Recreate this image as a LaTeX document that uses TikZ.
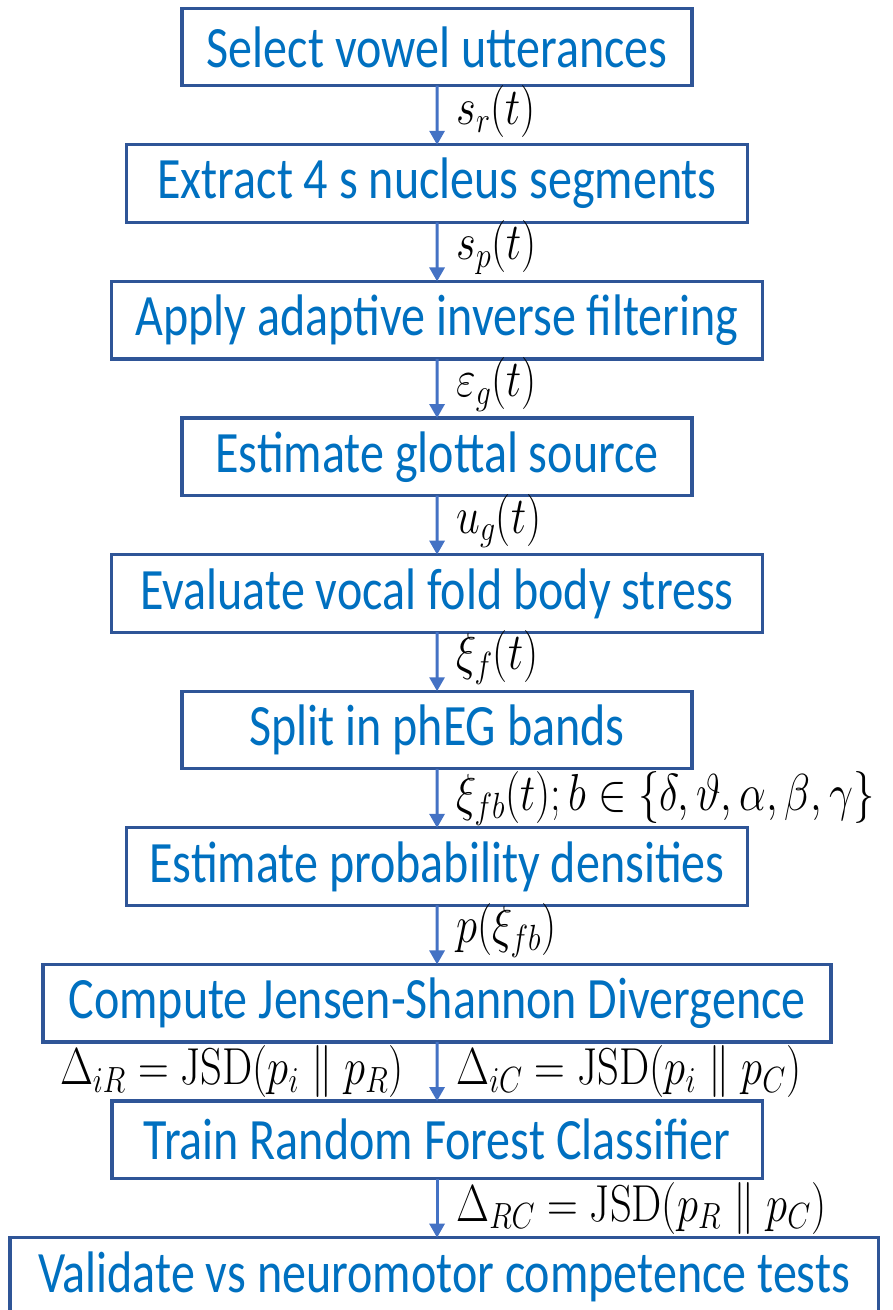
\documentclass[tikz,border=0pt]{standalone}
\usepackage{fix-cm}
\usepackage[no-math]{fontspec}
\setmainfont{Carlito}
\usepackage{tikz}
\usetikzlibrary{arrows.meta,positioning}
\definecolor{boxblue}{HTML}{2F5597}
\definecolor{textblue}{HTML}{0070C0}
\definecolor{arrowblue}{HTML}{4472C4}
\newcommand{\stagefont}{\fontsize{29.3}{34}\selectfont}
\newcommand{\siglabelfont}{\fontsize{26}{30}\selectfont}
\tikzset{
    stage/.style={rectangle, draw=boxblue, line width=1.6pt, minimum height=38.75pt, inner sep=0pt, outer sep=0pt, align=center, font=\stagefont, text=textblue},
    flow/.style={-{Triangle[length=7pt, width=7.5pt]}, line width=1.5pt, draw=arrowblue},
    sig/.style={font=\siglabelfont, inner sep=0pt, text=black},
}

\begin{document}
\begin{tikzpicture}[xscale=0.82, transform shape, node distance=29.55pt]
    \useasboundingbox (-266.5pt,23.5pt) rectangle (277.5pt,-631.5pt);
    \node[stage, minimum width=311pt] (select) {Select vowel utterances};
    \node[stage, below=of select, minimum width=378.7pt] (extract) {Extract 4 s nucleus segments};
    \node[stage, below=of extract, minimum width=397pt] (inverse) {Apply adaptive inverse filtering};
    \node[stage, below=of inverse, minimum width=311pt] (glottal) {Estimate glottal source};
    \node[stage, below=of glottal, minimum width=397pt] (stress) {Evaluate vocal fold body stress};
    \node[stage, below=of stress, minimum width=311pt] (bands) {Split in phEG bands};
    \node[stage, below=of bands, minimum width=378.7pt] (densities) {Estimate probability densities};
    \node[stage, below=of densities, minimum width=480.5pt] (jsd) {Compute Jensen-Shannon Divergence};
    \node[stage, below=of jsd, minimum width=396.4pt] (forest) {Train Random Forest Classifier};
    \node[stage, below=of forest, minimum width=529.3pt, xshift=4.3pt] (validate) {Validate vs neuromotor competence tests};

    \draw[flow] (select) -- node[sig, right=11pt, yshift=2pt] {$s_r(t)$} (extract);
    \draw[flow] (extract) -- node[sig, right=11pt, yshift=2pt] {$s_p(t)$} (inverse);
    \draw[flow] (inverse) -- node[sig, right=11pt, yshift=2pt] {$\varepsilon_g(t)$} (glottal);
    \draw[flow] (glottal) -- node[sig, right=11pt, yshift=2pt] {$u_g(t)$} (stress);
    \draw[flow] (stress) -- node[sig, right=11pt, yshift=2pt] {$\xi_f(t)$} (bands);
    \draw[flow] (bands) -- node[sig, right=11pt] {$\xi_{fb}(t); b\in\{\delta,\vartheta,\alpha,\beta,\gamma\}$} (densities);
    \draw[flow] (densities) -- node[sig, right=11pt, yshift=2pt] {$p(\xi_{fb})$} (jsd);
    \draw[flow] (jsd) -- node[sig, left=19.5pt] {$\Delta_{iR}=\mathrm{JSD}(p_i\parallel p_R)$}
        node[sig, right=11pt] {$\Delta_{iC}=\mathrm{JSD}(p_i\parallel p_C)$} (forest);
    \draw[flow] (forest.south) -- node[sig, right=11pt] {$\Delta_{RC}=\mathrm{JSD}(p_R\parallel p_C)$} (forest.south |- validate.north);
\end{tikzpicture}
\end{document}
